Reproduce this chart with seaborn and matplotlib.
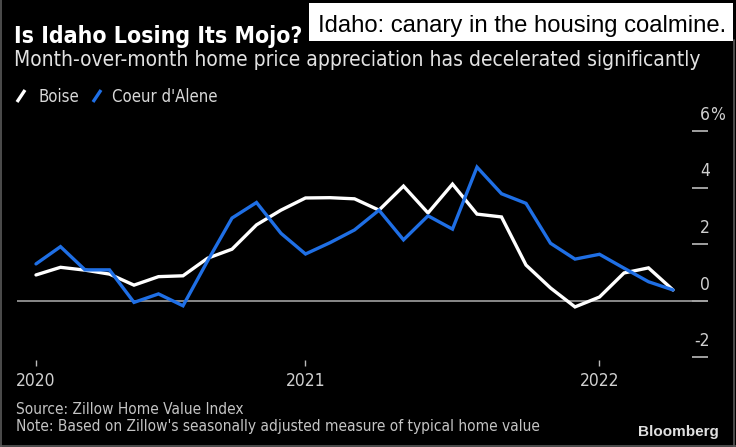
import numpy as np
import pandas as pd
import matplotlib
matplotlib.use("Agg")
import matplotlib.pyplot as plt
import matplotlib.transforms as mtransforms
from matplotlib.patches import Rectangle
from matplotlib.lines import Line2D
import seaborn as sns

# ---- data (month-over-month % change) ----
months = list(range(27))  # monthly observations, first = start of 2020
boise = [0.91, 1.18, 1.08, 0.94, 0.55, 0.85, 0.88, 1.50, 1.82, 2.68, 3.20,
         3.63, 3.64, 3.60, 3.20, 4.05, 3.10, 4.12, 3.06, 2.96, 1.26, 0.45,
         -0.22, 0.13, 0.98, 1.16, 0.38]
coeur = [1.30, 1.91, 1.09, 1.09, -0.06, 0.24, -0.18, 1.40, 2.92, 3.47, 2.38,
         1.65, 2.05, 2.50, 3.20, 2.15, 3.00, 2.53, 4.72, 3.78, 3.44, 2.03,
         1.47, 1.64, 1.15, 0.67, 0.38]
series_names = ["Boise", "Coeur d'Alene"]
x_tick_pos = [0, 11, 23]
x_tick_labels = ["2020", "2021", "2022"]
y_ticks = [6, 4, 2, 0, -2]
y_tick_labels = ["6", "4", "2", "0", "-2"]

df = pd.DataFrame({
    "month": months * 2,
    "value": boise + coeur,
    "city": [series_names[0]] * len(months) + [series_names[1]] * len(months),
})

BLUE = "#1f6fe5"
BG = "#000000"
COND = dict(family="DejaVu Sans", stretch="condensed")

sns.set_style("dark")
plt.rcParams["font.family"] = ["DejaVu Sans"]

W, H = 736, 447
fig = plt.figure(figsize=(W / 100, H / 100), dpi=100, facecolor=BG)

def fx(px):
    return px / W

def fy(py):
    return (H - py) / H

ax_left, ax_right, ax_top, ax_bot = 17, 708, 105, 366
ax = fig.add_axes([fx(ax_left), fy(ax_bot), fx(ax_right - ax_left), (ax_bot - ax_top) / H])
ax.set_facecolor(BG)

sns.lineplot(data=df, x="month", y="value", hue="city",
             palette={series_names[0]: "#ffffff", series_names[1]: BLUE},
             hue_order=series_names, linewidth=2.4, legend=False, ax=ax,
             solid_joinstyle="miter")

x0px, pxm = 36, 24.5
ax.set_xlim((ax_left - x0px) / pxm, (ax_right - x0px) / pxm)
y0px, pxu = 300.7, 28.3
ax.set_ylim((y0px - ax_bot) / pxu, (y0px - ax_top) / pxu)

ax.axhline(0, color="#a0a0a0", lw=1.2, zorder=1)

for s in ax.spines.values():
    s.set_visible(False)
ax.grid(False)
ax.set_xlabel("")
ax.set_ylabel("")

TICKFS = 12.5
# x ticks
ax.set_xticks(x_tick_pos)
ax.set_xticklabels(x_tick_labels, fontsize=TICKFS, color="#d0d0d0", **COND)
ax.tick_params(axis="x", direction="in", length=4.5, width=1.0, color="#bbbbbb",
               pad=4, bottom=True)

# y ticks on right, labels above tick marks
ax.yaxis.tick_right()
ax.set_yticks(y_ticks)
ax.set_yticklabels([])
ax.tick_params(axis="y", direction="in", length=11.5, width=1.1, color="#cccccc",
               right=True, left=False, labelright=False)
blend = mtransforms.blended_transform_factory(ax.transAxes, ax.transData)
xr = (710 - ax_left) / (ax_right - ax_left)
for v, lab in zip(y_ticks, y_tick_labels):
    ax.annotate(lab, xy=(xr, v), xycoords=blend, xytext=(0, 8),
                textcoords="offset points", ha="right", va="baseline",
                fontsize=TICKFS, color="#d0d0d0", annotation_clip=False, **COND)
ax.annotate("%", xy=(xr, y_ticks[0]), xycoords=blend, xytext=(0, 8),
            textcoords="offset points", ha="left", va="baseline",
            fontsize=TICKFS, color="#d0d0d0", annotation_clip=False, **COND)

# titles
fig.text(fx(14), fy(42.7), "Is Idaho Losing Its Mojo?", fontsize=16.6, weight="bold",
         color="#ffffff", va="baseline", ha="left", **COND)
fig.text(fx(14), fy(66.5), "Month-over-month home price appreciation has decelerated significantly",
         fontsize=15, color="#e2e2e2", va="baseline", ha="left", **COND)

# legend
for (xa, xb), col, tx, lab in [((17, 25), "#ffffff", 38, series_names[0]),
                               ((93, 101), BLUE, 112, series_names[1])]:
    fig.add_artist(Line2D([fx(xa), fx(xb)], [fy(102), fy(90)], color=col, lw=2.4,
                          transform=fig.transFigure, solid_capstyle="butt"))
    fig.text(fx(tx), fy(96.5), lab, fontsize=12, color="#d8d8d8", va="center",
             ha="left", **COND)

# footer
fig.text(fx(16), fy(409), "Source: Zillow Home Value Index", fontsize=11.1,
         color="#c4c4c4", va="center", ha="left", **COND)
fig.text(fx(16), fy(427), "Note: Based on Zillow's seasonally adjusted measure of typical home value",
         fontsize=11.1, color="#c4c4c4", va="center", ha="left", **COND)
fig.text(fx(719), fy(432), "Bloomberg", fontsize=11, weight="bold", family="Liberation Sans",
         color="#e0e0e0", va="center", ha="right")

# frame border
for xs, ys in [([fx(1), fx(1)], [fy(447), fy(0)]),
               ([fx(734), fx(734)], [fy(447), fy(40)]),
               ([fx(0), fx(736)], [fy(446), fy(446)])]:
    fig.add_artist(Line2D(xs, ys, color="#5a5a5a", lw=1.2, transform=fig.transFigure))

# overlay caption box
fig.add_artist(Rectangle((fx(309), fy(41)), fx(733 - 309), (41 - 3) / H,
                         transform=fig.transFigure, facecolor="#ffffff",
                         edgecolor="none", zorder=5))
fig.text(fx(318), fy(32), "Idaho: canary in the housing coalmine.",
         family="Liberation Sans", fontsize=17.2, color="#000000",
         va="baseline", ha="left", zorder=6)

fig.savefig("out.png", dpi=100, facecolor=BG)
